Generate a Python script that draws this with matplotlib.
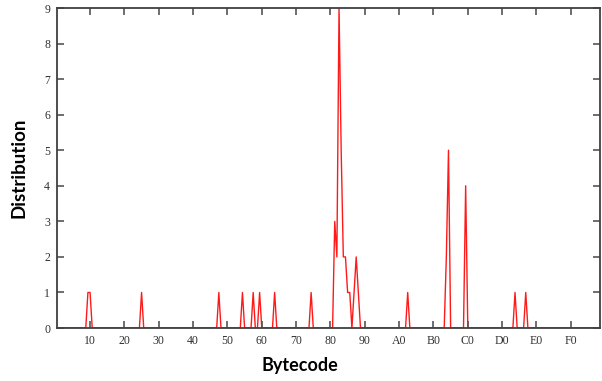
import numpy as np
import matplotlib
matplotlib.use('Agg')
import matplotlib.pyplot as plt

# byte values that occur, and how often (all other bytes are 0)
codes = [15, 16, 40, 76, 87, 92, 95, 102, 119,
         130, 131, 132, 133, 134, 135, 136, 137, 139, 140, 141,
         164, 182, 183, 191, 214, 219]
counts = [1, 1, 1, 1, 1, 1, 1, 1, 1,
          3, 2, 9, 5, 2, 2, 1, 1, 1, 2, 1,
          1, 2, 5, 4, 1, 1]

tick_pos = [16 * k for k in range(1, 16)]
tick_labels = ['%X0' % k for k in range(1, 16)]

bytecode = np.arange(256)
dist = np.zeros(256)
dist[codes] = counts

fig = plt.figure(figsize=(6.02, 3.81), dpi=100)
ax = fig.add_axes([0.0947, 0.139, 0.902, 0.840])

ax.plot(bytecode, dist, color='#ff1a1a', linewidth=1.0, zorder=1)

ax.set_xlim(0.6, 253.6)
ax.set_ylim(0, 9)
ax.set_xticks(tick_pos)
ax.set_xticklabels(tick_labels, family='Liberation Serif', fontsize=8.5, color='#303030')
ax.set_yticks(range(10))
ax.set_yticklabels([str(i) for i in range(10)], family='Liberation Serif', fontsize=8.5, color='#303030')
ax.tick_params(direction='in', length=5, width=1.2, color='#555555',
               top=True, right=True, pad=5)

for s in ax.spines.values():
    s.set_color('#404040')
    s.set_linewidth(1.3)

ax.set_xlabel('Bytecode', family='Lato', fontweight='bold', fontsize=13)
ax.set_ylabel('Distribution', family='Lato', fontweight='bold', fontsize=13.5)
ax.xaxis.set_label_coords(0.447, -0.092)
ax.yaxis.set_label_coords(-0.055, 0.5)

plt.savefig('out.png', dpi=100)
